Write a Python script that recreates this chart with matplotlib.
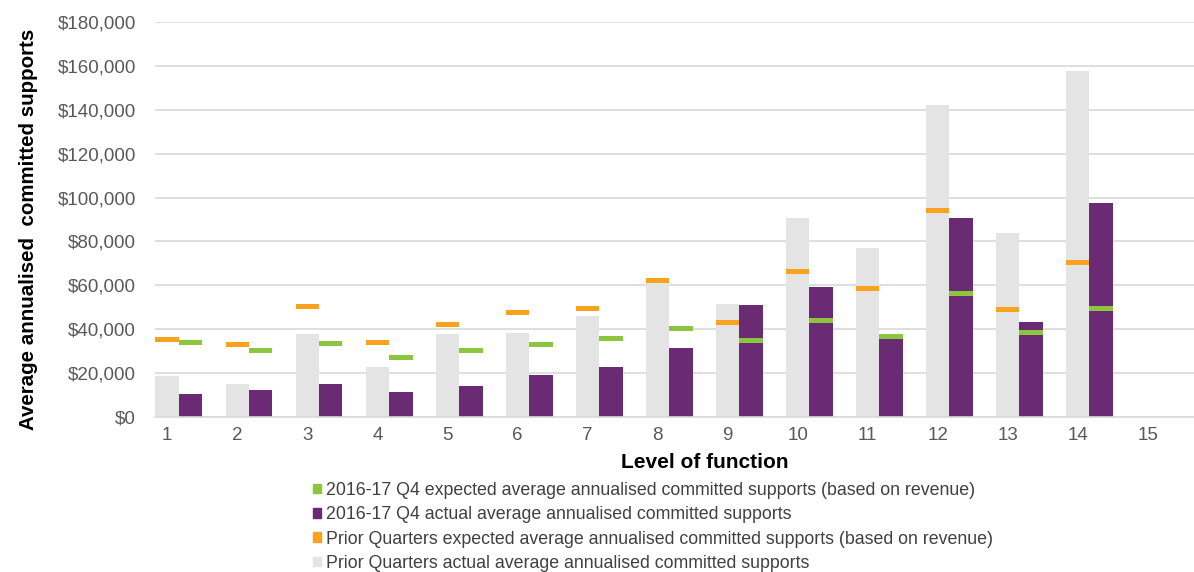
import matplotlib.pyplot as plt
import numpy as np
from matplotlib.patches import Patch

plt.rcParams['font.family'] = ['Liberation Sans', 'DejaVu Sans']

levels = [str(i) for i in range(1, 16)]
# values for levels 1-14 (level 15 has no data)
prior_actual = [18700, 15200, 38000, 22800, 38000, 38500, 45900, 61500, 51700, 90900, 76800, 142100, 83800, 157700]
q4_actual = [10300, 12200, 14900, 11300, 14000, 19300, 22800, 31600, 51200, 59100, 35700, 90900, 43200, 97600]
prior_expected = [35300, 33200, 50200, 33900, 42100, 47600, 49400, 62000, 43200, 66400, 58700, 94100, 49000, 70200]
q4_expected = [33900, 30400, 33300, 27100, 30400, 33000, 35700, 40300, 35000, 44100, 36800, 56400, 38300, 49400]

c_grey = '#E4E4E4'
c_purple = '#6B2A74'
c_orange = '#F8A21E'
c_green = '#8CC63F'

fig = plt.figure(figsize=(11.94, 5.72), dpi=100)
ax = fig.add_axes([0.13, 0.271, 0.87, 0.6905])

x = np.arange(1, len(prior_actual) + 1)
w = 0.335
th = 2300  # marker thickness in data units

ax.bar(x, prior_actual, width=w, color=c_grey, zorder=2)
ax.bar(x + w, q4_actual, width=w, color=c_purple, zorder=2)
ax.bar(x, th, bottom=np.array(prior_expected) - th / 2, width=w, color=c_orange, zorder=3)
ax.bar(x + w, th, bottom=np.array(q4_expected) - th / 2, width=w, color=c_green, zorder=3)

ax.set_ylim(0, 180000)
ax.set_xlim(0.829, 15.66)
ax.set_yticks(np.arange(0, 180001, 20000))
ax.set_yticklabels(['${:,.0f}'.format(v) for v in np.arange(0, 180001, 20000)])
ax.set_xticks(np.arange(1, 16))
ax.set_xticklabels(levels)
ax.tick_params(axis='both', length=0, labelsize=13.5, colors='#595959')
ax.tick_params(axis='y', pad=14)
ax.tick_params(axis='x', pad=7)
ax.grid(axis='y', color='#D9D9D9', linewidth=1.2, zorder=0)
ax.set_axisbelow(True)
for s in ['top', 'right', 'left']:
    ax.spines[s].set_visible(False)
ax.spines['bottom'].set_color('#D9D9D9')
ax.spines['bottom'].set_linewidth(1.2)

ax.set_ylabel('Average annualised  committed supports', fontsize=14.8, fontweight='bold')
ax.yaxis.set_label_coords(-0.113, 0.475)
ax.set_xlabel('Level of function', fontsize=15, fontweight='bold', labelpad=8)
ax.xaxis.set_label_coords(0.529, -0.09)

handles = [
    Patch(color=c_green, label='2016-17 Q4 expected average annualised committed supports (based on revenue)'),
    Patch(color=c_purple, label='2016-17 Q4 actual average annualised committed supports'),
    Patch(color=c_orange, label='Prior Quarters expected average annualised committed supports (based on revenue)'),
    Patch(color=c_grey, label='Prior Quarters actual average annualised committed supports'),
]
leg = fig.legend(handles=handles, loc='upper left', bbox_to_anchor=(0.262, 0.158), frameon=False,
                 fontsize=12.8, handlelength=0.45, handleheight=0.45, handletextpad=0.3,
                 labelspacing=0.42, borderpad=0, borderaxespad=0)
for t in leg.get_texts():
    t.set_color('#404040')

fig.savefig('out.png', dpi=100)
